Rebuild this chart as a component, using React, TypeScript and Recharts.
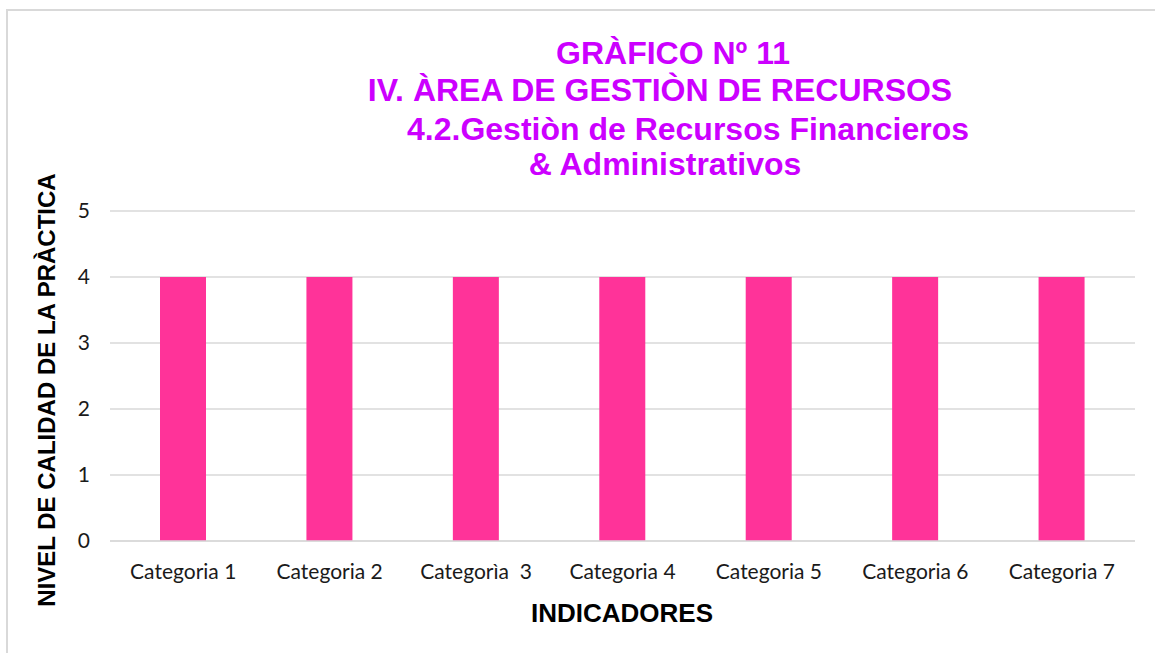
import React from 'react';
import { BarChart, Bar, XAxis, YAxis, CartesianGrid } from 'recharts';

const categories = [
  'Categoria 1',
  'Categoria 2',
  'Categorìa\u00a0 3',
  'Categoria 4',
  'Categoria 5',
  'Categoria 6',
  'Categoria 7',
];
const values = [4, 4, 4, 4, 4, 4, 4];
const yTicks = [0, 1, 2, 3, 4, 5];
const titleLines = [
  'GRÀFICO Nº 11',
  'IV. ÀREA DE GESTIÒN DE RECURSOS',
  '4.2.Gestiòn de Recursos Financieros',
  '& Administrativos',
];

const chartData = categories.map((name, i) => ({ name, value: values[i] }));

const titleCenters = [673, 660, 688, 665];
const titleTops = [35, 72, 111, 146];

export default function App() {
  return (
    <div
      style={{
        position: 'absolute',
        left: 0,
        top: 0,
        width: 1155,
        height: 653,
        background: '#fff',
        overflow: 'hidden',
        fontFamily: '"Liberation Sans", Arial, sans-serif',
      }}
    >
      {/* frame, only top and left edges are visible */}
      <div
        style={{
          position: 'absolute',
          left: 6,
          top: 9,
          width: 1160,
          height: 660,
          borderTop: '2px solid #d9d9d9',
          borderLeft: '2px solid #d9d9d9',
        }}
      />
      {titleLines.map((t, i) => (
        <div
          key={t}
          style={{
            position: 'absolute',
            left: titleCenters[i],
            top: titleTops[i],
            transform: 'translateX(-50%)',
            whiteSpace: 'nowrap',
            fontSize: 32,
            lineHeight: '36px',
            fontWeight: 'bold',
            color: '#CC00FF',
          }}
        >
          {t}
        </div>
      ))}
      <div style={{ position: 'absolute', left: 0, top: 0 }}>
        <BarChart
          width={1155}
          height={653}
          data={chartData}
          margin={{ top: 211, right: 20, bottom: 82, left: 70 }}
        >
          <CartesianGrid vertical={false} stroke="#d9d9d9" strokeWidth={1.5} />
          <XAxis
            dataKey="name"
            height={30}
            tickLine={false}
            axisLine={{ stroke: '#d9d9d9', strokeWidth: 1.5 }}
            tick={{ fontSize: 21, fill: '#1a1a1a', fontFamily: 'Lato, sans-serif' }}
            tickMargin={17}
            interval={0}
          />
          <YAxis
            width={40}
            domain={[0, 5]}
            ticks={yTicks}
            tickLine={false}
            axisLine={false}
            tick={{ fontSize: 21, fill: '#1a1a1a', fontFamily: 'Lato, sans-serif' }}
            tickMargin={14}
          />
          <Bar dataKey="value" fill="#FF3399" barSize={46} isAnimationActive={false} />
        </BarChart>
      </div>
      <div
        style={{
          position: 'absolute',
          left: 622,
          top: 598,
          transform: 'translateX(-50%)',
          fontSize: 26,
          lineHeight: '30px',
          fontWeight: 'bold',
          color: '#000',
          whiteSpace: 'nowrap',
        }}
      >
        INDICADORES
      </div>
      <div
        style={{
          position: 'absolute',
          left: 47,
          top: 390,
          transform: 'translate(-50%, -50%) rotate(-90deg)',
          fontSize: 24,
          lineHeight: '28px',
          fontWeight: 'bold',
          color: '#000',
          whiteSpace: 'nowrap',
        }}
      >
        NIVEL DE CALIDAD DE LA PRÀCTICA
      </div>
    </div>
  );
}
